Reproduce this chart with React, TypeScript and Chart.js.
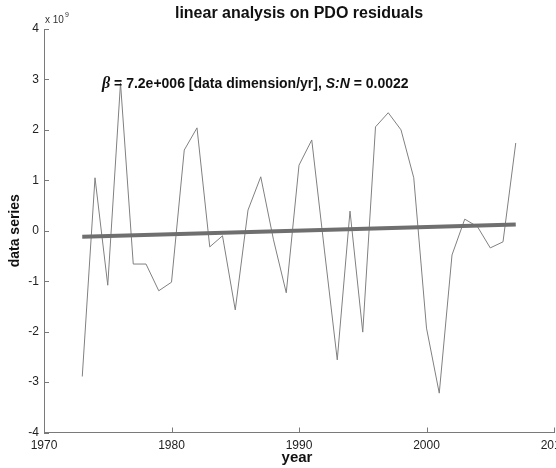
import React, { useEffect, useRef } from "react";
import { Chart, registerables } from "chart.js";

Chart.register(...registerables);

const years = [
  1973, 1974, 1975, 1976, 1977, 1978, 1979, 1980, 1981, 1982, 1983, 1984,
  1985, 1986, 1987, 1988, 1989, 1990, 1991, 1992, 1993, 1994, 1995, 1996,
  1997, 1998, 1999, 2000, 2001, 2002, 2003, 2004, 2005, 2006, 2007,
];
// residuals, in units of 10^9
const residuals = [
  -2.89, 1.05, -1.08, 2.93, -0.66, -0.66, -1.19, -1.02, 1.6, 2.04, -0.32,
  -0.1, -1.57, 0.41, 1.07, -0.18, -1.23, 1.3, 1.8, -0.4, -2.56, 0.39, -2.01,
  2.06, 2.34, 2.0, 1.05, -1.93, -3.22, -0.48, 0.23, 0.08, -0.34, -0.22, 1.74,
];
const trendYears = [1973, 2007];
const trendValues = [-0.12, 0.125];
const xTicks = [1970, 1980, 1990, 2000, 2010];
const yTicks = [-4, -3, -2, -1, 0, 1, 2, 3, 4];

const titleText = "linear analysis on PDO residuals";
const xTitle = "year";
const yTitle = "data series";
const scaleNote = "x 10";
const scaleExp = "9";

const SANS = "'Liberation Sans', Arial, Helvetica, sans-serif";

const decorPlugin = {
  id: "decor",
  afterDraw(chart: any) {
    const { ctx, chartArea } = chart;
    const xs = chart.scales.x;
    const ys = chart.scales.y;
    ctx.save();
    // inward ticks
    ctx.strokeStyle = "#7a7a7a";
    ctx.lineWidth = 1;
    ctx.beginPath();
    xTicks.forEach((v) => {
      const px = Math.round(xs.getPixelForValue(v)) + 0.5;
      ctx.moveTo(px, chartArea.bottom);
      ctx.lineTo(px, chartArea.bottom - 5);
    });
    yTicks.forEach((v) => {
      const py = Math.round(ys.getPixelForValue(v)) + 0.5;
      ctx.moveTo(chartArea.left, py);
      ctx.lineTo(chartArea.left + 5, py);
    });
    ctx.stroke();

    ctx.fillStyle = "#111";
    // title
    ctx.font = `bold 16px ${SANS}`;
    ctx.textAlign = "center";
    ctx.textBaseline = "middle";
    ctx.fillText(titleText, (chartArea.left + chartArea.right) / 2, 14);

    // x10^9
    ctx.font = `10px ${SANS}`;
    ctx.textAlign = "left";
    ctx.fillStyle = "#333";
    ctx.fillText(scaleNote, chartArea.left + 1, 20);
    const w = ctx.measureText(scaleNote).width;
    ctx.font = `7px ${SANS}`;
    ctx.fillText(scaleExp, chartArea.left + 2 + w, 15);

    // annotation
    ctx.fillStyle = "#111";
    let ax = 102;
    const ay = 84;
    const parts: [string, string][] = [
      ["β", `italic bold 16px 'Liberation Serif', serif`],
      [" = 7.2e+006 [data dimension/yr], ", `bold 14px ${SANS}`],
      ["S:N", `italic bold 14px ${SANS}`],
      [" = 0.0022", `bold 14px ${SANS}`],
    ];
    parts.forEach(([t, f]) => {
      ctx.font = f;
      ctx.fillText(t, ax, ay);
      ax += ctx.measureText(t).width;
    });

    // axis titles
    ctx.font = `bold 15px ${SANS}`;
    ctx.textAlign = "center";
    ctx.textBaseline = "alphabetic";
    ctx.fillText(xTitle, (chartArea.left + chartArea.right) / 2 - 2, 462);
    ctx.save();
    ctx.translate(15, (chartArea.top + chartArea.bottom) / 2);
    ctx.rotate(-Math.PI / 2);
    ctx.font = `bold 14px ${SANS}`;
    ctx.textBaseline = "middle";
    ctx.fillText(yTitle, 0, 0);
    ctx.restore();
    ctx.restore();
  },
};

export default function App() {
  const ref = useRef<HTMLCanvasElement>(null);
  useEffect(() => {
    const canvas = ref.current!;
    const chart = new Chart(canvas, {
      type: "line",
      data: {
        datasets: [
          {
            data: trendYears.map((x, i) => ({ x, y: trendValues[i] })),
            borderColor: "#6f6f6f",
            borderWidth: 4,
            pointRadius: 0,
            fill: false,
          },
          {
            data: years.map((x, i) => ({ x, y: residuals[i] })),
            borderColor: "#808080",
            borderWidth: 1,
            pointRadius: 0,
            fill: false,
            tension: 0,
          },
        ],
      },
      options: {
        responsive: false,
        animation: false,
        devicePixelRatio: 1,
        layout: { padding: { left: 0, top: 29, right: 600 - 554, bottom: 0 } },
        plugins: {
          legend: { display: false },
          title: { display: false },
          tooltip: { enabled: false },
        },
        scales: {
          x: {
            type: "linear",
            min: 1970,
            max: 2010,
            afterBuildTicks: (s: any) => {
              s.ticks = xTicks.map((v) => ({ value: v }));
            },
            afterFit: (s: any) => {
              s.height = 468 - 432.5;
            },
            grid: { display: false, drawTicks: false },
            border: { display: true, color: "#7a7a7a", width: 1 },
            ticks: {
              padding: 6,
              color: "#222",
              font: { family: SANS, size: 12 },
              maxRotation: 0,
              autoSkip: false,
              callback: (v: any) => String(v),
            },
          },
          y: {
            type: "linear",
            min: -4,
            max: 4,
            afterBuildTicks: (s: any) => {
              s.ticks = yTicks.map((v) => ({ value: v }));
            },
            afterFit: (s: any) => {
              s.width = 44;
            },
            grid: { display: false, drawTicks: false },
            border: { display: true, color: "#7a7a7a", width: 1 },
            ticks: {
              padding: 5,
              color: "#222",
              font: { family: SANS, size: 12 },
              autoSkip: false,
              callback: (v: any) => String(v),
            },
          },
        },
      },
      plugins: [decorPlugin],
    });
    return () => chart.destroy();
  }, []);

  return (
    <div
      style={{
        position: "absolute",
        left: 0,
        top: 0,
        width: 556,
        height: 468,
        overflow: "hidden",
        background: "#fff",
      }}
    >
      <canvas ref={ref} width={600} height={468} style={{ width: 600, height: 468 }} />
    </div>
  );
}
